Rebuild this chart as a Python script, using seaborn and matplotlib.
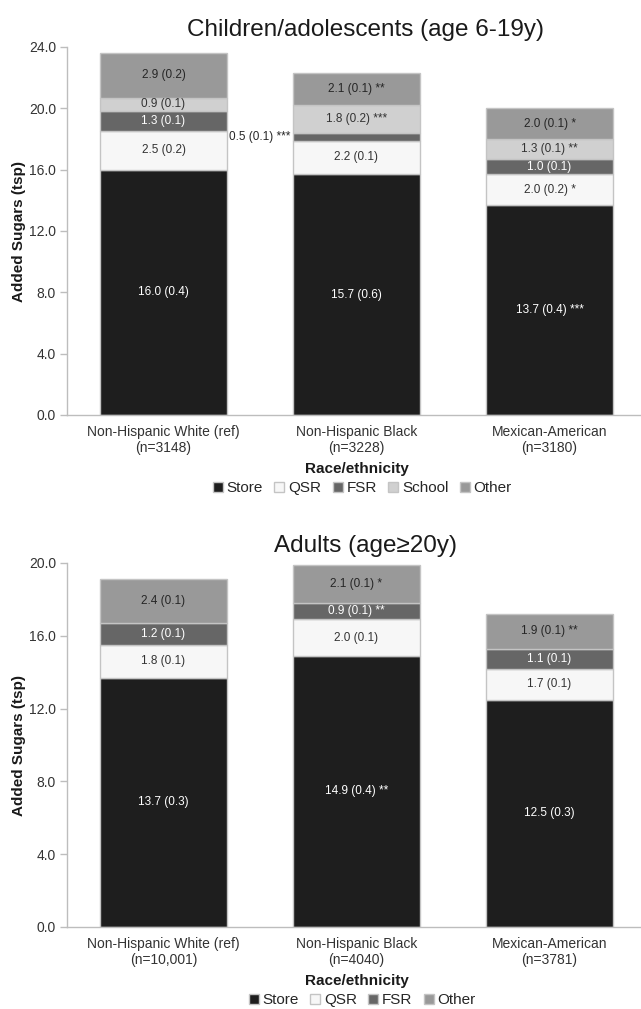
import matplotlib
matplotlib.use("Agg")
import matplotlib.pyplot as plt
from matplotlib.patches import Patch
import numpy as np
import pandas as pd
import seaborn as sns

sns.set_theme(style="white")
plt.rcParams["font.family"] = ["Liberation Sans", "DejaVu Sans"]

# ---- data -------------------------------------------------------------
groups_child = ["Non-Hispanic White (ref)\n(n=3148)",
                "Non-Hispanic Black\n(n=3228)",
                "Mexican-American\n(n=3180)"]
groups_adult = ["Non-Hispanic White (ref)\n(n=10,001)",
                "Non-Hispanic Black\n(n=4040)",
                "Mexican-American\n(n=3781)"]

sources_child = ["Store", "QSR", "FSR", "School", "Other"]
sources_adult = ["Store", "QSR", "FSR", "Other"]

# mean added sugars (tsp) by source, one list per source across the 3 groups
child_store = [16.0, 15.7, 13.7]
child_qsr = [2.5, 2.2, 2.0]
child_fsr = [1.3, 0.5, 1.0]
child_school = [0.9, 1.8, 1.3]
child_other = [2.9, 2.1, 2.0]

child_store_se = [0.4, 0.6, 0.4]
child_qsr_se = [0.2, 0.1, 0.2]
child_fsr_se = [0.1, 0.1, 0.1]
child_school_se = [0.1, 0.2, 0.1]
child_other_se = [0.2, 0.1, 0.1]

child_store_sig = ["", "", "***"]
child_qsr_sig = ["", "", "*"]
child_fsr_sig = ["", "***", ""]
child_school_sig = ["", "***", "**"]
child_other_sig = ["", "**", "*"]

adult_store = [13.7, 14.9, 12.5]
adult_qsr = [1.8, 2.0, 1.7]
adult_fsr = [1.2, 0.9, 1.1]
adult_other = [2.4, 2.1, 1.9]

adult_store_se = [0.3, 0.4, 0.3]
adult_qsr_se = [0.1, 0.1, 0.1]
adult_fsr_se = [0.1, 0.1, 0.1]
adult_other_se = [0.1, 0.1, 0.1]

adult_store_sig = ["", "**", ""]
adult_qsr_sig = ["", "", ""]
adult_fsr_sig = ["", "**", ""]
adult_other_sig = ["", "*", "**"]

child_yticks = [0.0, 4.0, 8.0, 12.0, 16.0, 20.0, 24.0]
adult_yticks = [0.0, 4.0, 8.0, 12.0, 16.0, 20.0]

# ---- styling ----------------------------------------------------------
fill = {"Store": "#1e1e1e", "QSR": "#f7f7f7", "FSR": "#666666",
        "School": "#d0d0d0", "Other": "#999999"}
text_col = {"Store": "white", "QSR": "#333333", "FSR": "white",
            "School": "#333333", "Other": "#262626"}
edge = "#c4c4c4"
axis_col = "#bdbdbd"
FIG_W, FIG_H = 641, 1009


def stacked_panel(ax, groups, sources, values, ses, sigs, yticks, title,
                  height_px, outside=None):
    outside = outside or {}
    bottom = np.zeros(len(groups))
    for src, vals, se, sg in zip(sources, values, ses, sigs):
        df = pd.DataFrame({"group": groups, "tsp": vals})
        sns.barplot(data=df, x="group", y="tsp", ax=ax, color=fill[src],
                    bottom=bottom.copy(), width=0.66, edgecolor=edge,
                    linewidth=1.0, saturation=1, errorbar=None)
        for i, (v, s, star) in enumerate(zip(vals, se, sg)):
            label = f"{v:.1f} ({s:.1f})" + (f" {star}" if star else "")
            yc = bottom[i] + v / 2
            if (src, i) in outside:
                ax.text(i - 0.66 / 2 - 0.015, yc, label, ha="right",
                        va="center", fontsize=8.5, color="#262626")
            else:
                ax.text(i, yc, label, ha="center", va="center",
                        fontsize=8.5, color=text_col[src])
        bottom = bottom + np.array(vals)

    ax.set_xlim(-0.5, 2.5)
    ax.set_ylim(yticks[0], yticks[-1])
    ax.set_yticks(yticks)
    ax.set_yticklabels([f"{t:.1f}" for t in yticks], fontsize=10,
                       color="#333333")
    ax.set_xticks(range(len(groups)))
    ax.set_xticklabels(groups, fontsize=10, color="#333333",
                       linespacing=1.2)
    ax.set_xticks([-0.5, 0.5, 1.5, 2.5], minor=True)
    ax.tick_params(axis="x", which="major", length=0, pad=7)
    ax.tick_params(axis="x", which="minor", length=5, color=axis_col,
                   width=1, direction="out")
    ax.tick_params(axis="y", length=5, color=axis_col, width=1,
                   direction="out", pad=3, left=True)
    for sp in ["top", "right"]:
        ax.spines[sp].set_visible(False)
    for sp in ["left", "bottom"]:
        ax.spines[sp].set_color(axis_col)
        ax.spines[sp].set_linewidth(1)
    ax.set_ylabel("Added Sugars (tsp)", fontsize=11, fontweight="bold",
                  color="#1a1a1a", labelpad=2)
    ax.set_xlabel("Race/ethnicity", fontsize=11, fontweight="bold",
                  color="#1a1a1a", labelpad=5)
    ax.set_title(title, fontsize=17.5, color="#1a1a1a", pad=8, x=0.516)

    handles = [Patch(facecolor=fill[s], edgecolor=edge, label=s)
               for s in sources]
    # legend sits a fixed distance below the x axis in both panels
    ax.legend(handles=handles, loc="upper center",
              bbox_to_anchor=(0.51, -66 / height_px), ncol=len(sources),
              frameon=False, fontsize=11, handlelength=0.65,
              handleheight=0.65, handletextpad=0.25, columnspacing=0.75,
              borderaxespad=0, borderpad=0)


fig = plt.figure(figsize=(FIG_W / 100, FIG_H / 100), dpi=100)
ax1 = fig.add_axes([67 / FIG_W, 594 / FIG_H, 579 / FIG_W, 368 / FIG_H])
ax2 = fig.add_axes([67 / FIG_W, 82 / FIG_H, 579 / FIG_W, 364 / FIG_H])

stacked_panel(
    ax1, groups_child, sources_child,
    [child_store, child_qsr, child_fsr, child_school, child_other],
    [child_store_se, child_qsr_se, child_fsr_se, child_school_se,
     child_other_se],
    [child_store_sig, child_qsr_sig, child_fsr_sig, child_school_sig,
     child_other_sig],
    child_yticks, "Children/adolescents (age 6-19y)", 368,
    outside={("FSR", 1)})

stacked_panel(
    ax2, groups_adult, sources_adult,
    [adult_store, adult_qsr, adult_fsr, adult_other],
    [adult_store_se, adult_qsr_se, adult_fsr_se, adult_other_se],
    [adult_store_sig, adult_qsr_sig, adult_fsr_sig, adult_other_sig],
    adult_yticks, "Adults (age\u226520y)", 364)

fig.savefig("out.png", dpi=100, facecolor="white")
